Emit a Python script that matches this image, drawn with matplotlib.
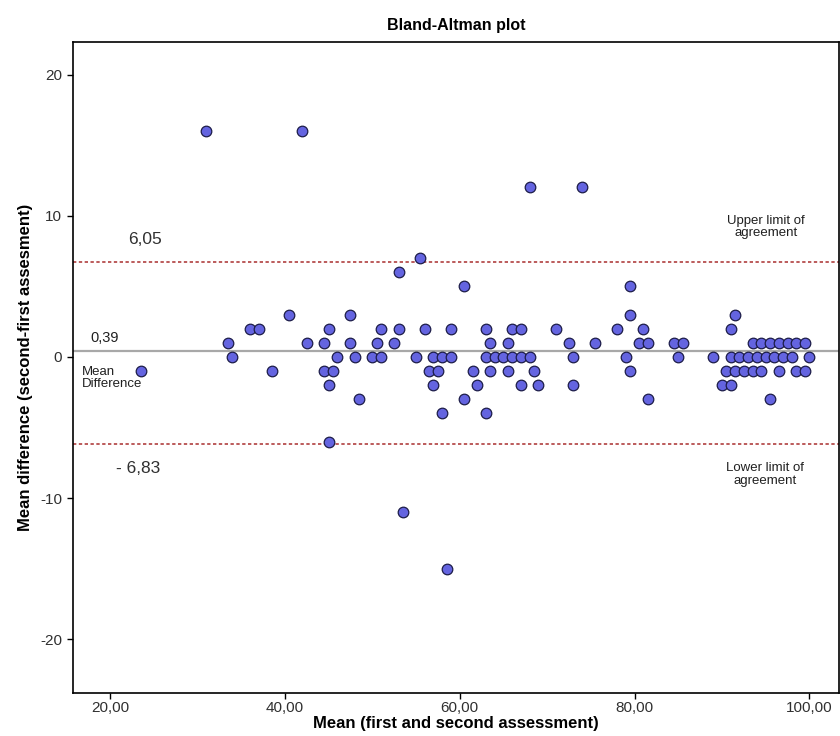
"""
Bland-Altman plot: difference between two assessments vs their mean
"""
import matplotlib
matplotlib.use('Agg')
import matplotlib.pyplot as plt

plt.rcParams['font.family'] = ['Liberation Sans', 'DejaVu Sans']
plt.rcParams['axes.unicode_minus'] = False

# Differences (second - first) and the means belonging to each difference level
diff_levels = [16, 12, 7, 6, 5, 3, 2, 1, 0, -1, -2, -3, -4, -6, -11, -15]
means_by_diff = [
    [31, 42],
    [68, 74],
    [55.5],
    [53],
    [60.5, 79.5],
    [40.5, 47.5, 79.5, 91.5],
    [36, 37, 45, 51, 53, 56, 59, 63, 66, 67, 71, 78, 81, 91],
    [33.5, 42.5, 44.5, 47.5, 50.5, 52.5, 63.5, 65.5, 72.5, 75.5, 80.5, 81.5,
     84.5, 85.5, 93.5, 94.5, 95.5, 96.5, 97.5, 98.5, 99.5],
    [34, 46, 48, 50, 51, 55, 57, 58, 59, 63, 64, 65, 66, 67, 68, 73, 79, 85,
     89, 91, 92, 93, 94, 95, 96, 97, 98, 100],
    [23.5, 38.5, 44.5, 45.5, 56.5, 57.5, 61.5, 63.5, 65.5, 68.5, 79.5, 90.5,
     91.5, 92.5, 93.5, 94.5, 96.5, 98.5, 99.5],
    [45, 57, 62, 67, 69, 73, 90, 91],
    [48.5, 60.5, 81.5, 95.5],
    [58, 63],
    [45],
    [53.5],
    [58.5],
]

mean_diff = 0.39
upper_line = 6.7
lower_line = -6.15
mean_label = '0,39'
upper_label = '6,05'
lower_label = '- 6,83'

x_ticks = [20, 40, 60, 80, 100]
x_tick_labels = ['20,00', '40,00', '60,00', '80,00', '100,00']
y_ticks = [20, 10, 0, -10, -20]
y_tick_labels = ['20', '10', '0', '-10', '-20']

xs = []
ys = []
for d, ms in zip(diff_levels, means_by_diff):
    for m in ms:
        xs.append(m)
        ys.append(d)

fig = plt.figure(figsize=(8.4, 7.36), dpi=100)
ax = fig.add_axes([0.0866, 0.0584, 0.9124, 0.8845])

ax.axhline(mean_diff, color='#a8a8a8', lw=1.6, zorder=1)
ax.axhline(upper_line, color='#b04040', lw=1.2, ls=(0, (2, 1.5)), zorder=1)
ax.axhline(lower_line, color='#b04040', lw=1.2, ls=(0, (2, 1.5)), zorder=1)

ax.scatter(xs, ys, s=58, facecolor='#6464e0', edgecolor='#1c1c48',
           linewidths=0.9, zorder=3)

ax.text(24.0, 8.3, upper_label, fontsize=12.5, color='#303030',
        ha='center', va='center')
ax.text(19.4, 1.35, mean_label, fontsize=10.5, color='#202020',
        ha='center', va='center')
ax.text(16.8, -1.5, 'Mean\nDifference', fontsize=9.5, color='#202020',
        ha='left', va='center', linespacing=1.0)
ax.text(23.2, -7.9, lower_label, fontsize=12.5, color='#303030',
        ha='center', va='center')
ax.text(95.0, 9.2, 'Upper limit of\nagreement', fontsize=9.5, color='#202020',
        ha='center', va='center', linespacing=1.1)
ax.text(94.9, -8.3, 'Lower limit of\nagreement', fontsize=9.5, color='#202020',
        ha='center', va='center', linespacing=1.1)

ax.set_xlim(15.74, 103.4)
ax.set_ylim(-23.8, 22.3)
ax.set_xticks(x_ticks)
ax.set_xticklabels(x_tick_labels)
ax.set_yticks(y_ticks)
ax.set_yticklabels(y_tick_labels)
ax.tick_params(direction='out', length=4, width=1, labelsize=11,
               labelcolor='#303030')
ax.tick_params(axis='x', pad=1.5)

for sp in ax.spines.values():
    sp.set_linewidth(1.2)

ax.set_xlabel('Mean (first and second assessment)', fontsize=12,
              fontweight='bold', labelpad=1)
ax.set_ylabel('Mean difference (second-first assesment)', fontsize=12,
              fontweight='bold', labelpad=5)
ax.set_title('Bland-Altman plot', fontsize=11.5, fontweight='bold', pad=9)

fig.savefig('out.png', dpi=100, facecolor='white')
